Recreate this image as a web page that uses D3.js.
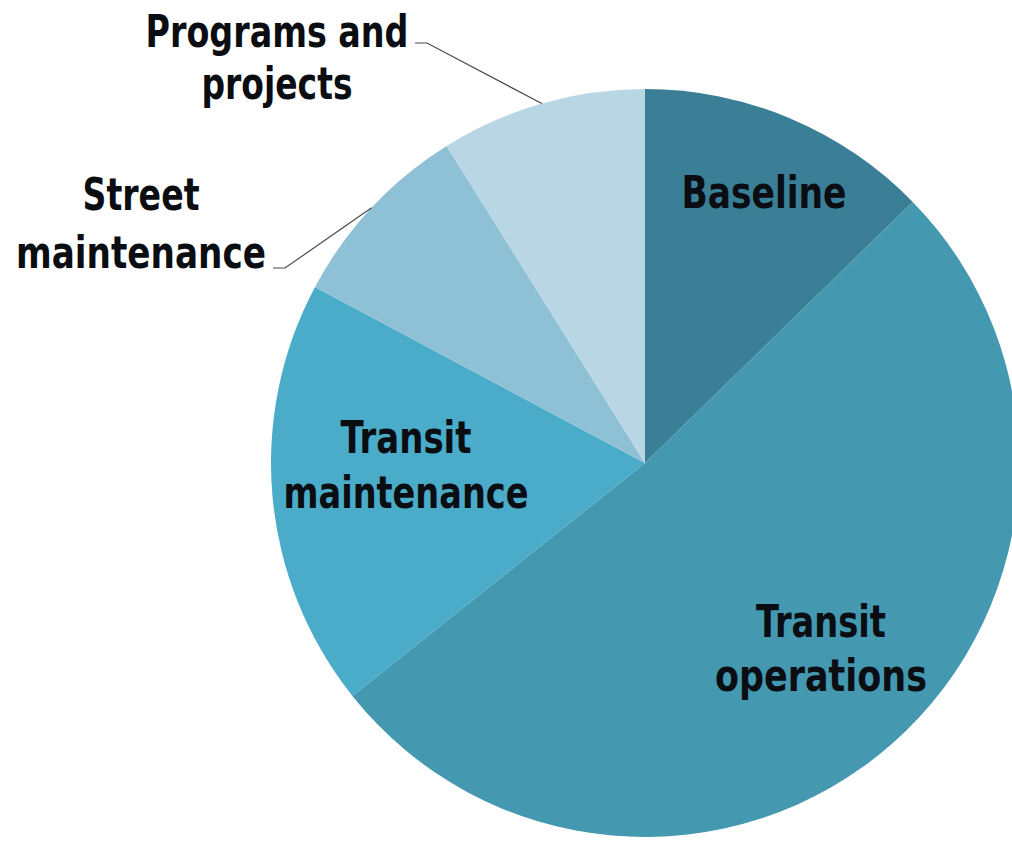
<!DOCTYPE html>
<html>
<head>
<meta charset="utf-8">
<script src="https://cdn.jsdelivr.net/npm/d3@7"></script>
<style>
  html, body { margin: 0; padding: 0; background: #fff; }
  svg { display: block; }
  .lbl { font-family: "DejaVu Sans Condensed", "DejaVu Sans", sans-serif; font-stretch: condensed; font-weight: bold; fill: #0a0d12; }
</style>
</head>
<body>
<svg id="chart" width="1012" height="843"></svg>
<script>
// ---- data ----
const categories = ["Baseline", "Transit operations", "Transit maintenance", "Street maintenance", "Programs and projects"];
const shares = [12.7, 51.6, 18.5, 8.3, 8.9];
const colors = ["#3a7f96", "#4498b0", "#4aacc8", "#8fc1d6", "#b8d6e3"];
const labelLines = [["Baseline"], ["Transit", "operations"], ["Transit", "maintenance"], ["Street", "maintenance"], ["Programs and", "projects"]];

// ---- layout (styles / positions) ----
const cx = 645, cy = 463, R = 374;
const fontSize = 45;
// label anchor (center x, baseline y of each line), relative to pie centre, and line widths
const labelPos = [
  {dx: 119, dys: [-255], w: [165]},
  {dx: 176, dys: [174, 228], w: [130, 212]},
  {dx: -239, dys: [-10, 45], w: [131, 245]},
  {dx: -504, dys: [-253, -195], w: [117, 250]},
  {dx: -368, dys: [-416, -364], w: [263, 151]}
];
// leader lines for outside labels: start point relative to centre and horizontal run
const leaders = {
  3: {x: -372, y: -195, run: 12},
  4: {x: -230, y: -420, run: 12}
};

const svg = d3.select("#chart");
const g = svg.append("g").attr("transform", `translate(${cx},${cy})`);

const pie = d3.pie().sort(null).value(d => d);
const arcs = pie(shares);
const arc = d3.arc().innerRadius(0).outerRadius(R);

g.selectAll("path.slice")
  .data(arcs)
  .join("path")
  .attr("class", "slice")
  .attr("d", arc)
  .attr("fill", (d, i) => colors[i]);

// leader lines
Object.entries(leaders).forEach(([k, L]) => {
  const a = arcs[+k];
  const mid = (a.startAngle + a.endAngle) / 2;
  const ex = Math.sin(mid) * R, ey = -Math.cos(mid) * R;
  g.append("path")
    .attr("d", d3.line()([[L.x, L.y], [L.x + L.run, L.y], [ex, ey]]))
    .attr("fill", "none")
    .attr("stroke", "#4a4a4a")
    .attr("stroke-width", 1.2);
});

// labels
labelLines.forEach((lines, i) => {
  const p = labelPos[i];
  lines.forEach((ln, j) => {
    g.append("text")
      .attr("class", "lbl")
      .attr("text-anchor", "middle")
      .attr("font-size", fontSize)
      .attr("x", p.dx)
      .attr("y", p.dys[j])
      .attr("textLength", p.w[j])
      .attr("lengthAdjust", "spacingAndGlyphs")
      .text(ln);
  });
});
</script>
</body>
</html>
